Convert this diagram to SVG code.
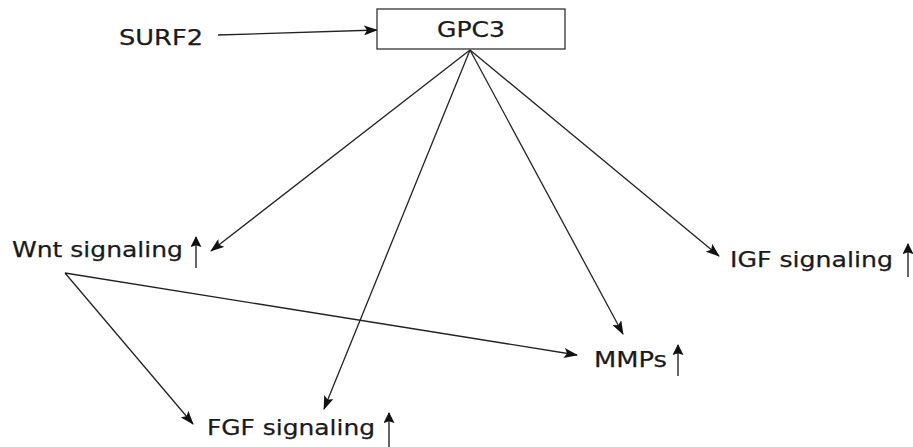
<svg xmlns="http://www.w3.org/2000/svg" width="913" height="447" viewBox="0 0 913 447">
<style>
.t{font-family:"DejaVu Sans",Verdana,sans-serif;font-size:22px;fill:#1a1a1a;stroke:#1a1a1a;stroke-width:0.25}
.c{stroke:#222;stroke-width:1.3;fill:none;marker-end:url(#ah)}
.u{stroke:#333;stroke-width:1.5;fill:none;marker-end:url(#uh)}
</style>
<defs>
<marker id="ah" viewBox="0 0 14 10" refX="13" refY="5" markerWidth="14" markerHeight="10" markerUnits="userSpaceOnUse" orient="auto">
<path d="M0,0 L14,5 L0,10 L3,5 Z" fill="#111"/>
</marker>
<marker id="uh" viewBox="0 0 12 12" refX="11" refY="6" markerWidth="11" markerHeight="11" markerUnits="userSpaceOnUse" orient="auto">
<path d="M0,0 L12,6 L0,12 L2,6 Z" fill="#111"/>
</marker>
</defs>
<rect width="913" height="447" fill="#fff"/>
<g id="connectors">
<line class="c" x1="218" y1="35" x2="377" y2="30"/>
<line class="c" x1="470" y1="50" x2="211" y2="251"/>
<line class="c" x1="470" y1="50" x2="324" y2="409"/>
<line class="c" x1="470" y1="50" x2="623" y2="334"/>
<line class="c" x1="470" y1="50" x2="719" y2="256"/>
<line class="c" x1="65" y1="273" x2="193" y2="424"/>
<line class="c" x1="65" y1="273" x2="577" y2="355"/>
</g>
<g id="surf2"><text class="t" x="119" y="45" textLength="84" lengthAdjust="spacingAndGlyphs">SURF2</text></g>
<g id="gpc3">
<rect x="377" y="9" width="188" height="40" fill="#fff" stroke="#333" stroke-width="1.3"/>
<text class="t" x="437" y="37" style="font-size:21px" textLength="68" lengthAdjust="spacingAndGlyphs">GPC3</text>
</g>
<g id="wnt">
<text class="t" x="12" y="257" textLength="171" lengthAdjust="spacingAndGlyphs">Wnt signaling</text>
<line class="u" x1="196" y1="268" x2="196" y2="237"/>
</g>
<g id="igf">
<text class="t" x="730" y="267" textLength="163" lengthAdjust="spacingAndGlyphs">IGF signaling</text>
<line class="u" x1="908" y1="277" x2="908" y2="244"/>
</g>
<g id="mmps">
<text class="t" x="594" y="367" textLength="73" lengthAdjust="spacingAndGlyphs">MMPs</text>
<line class="u" x1="678" y1="376" x2="678" y2="345"/>
</g>
<g id="fgf">
<text class="t" x="207" y="435" textLength="168" lengthAdjust="spacingAndGlyphs">FGF signaling</text>
<line class="u" x1="389" y1="447" x2="389" y2="413"/>
</g>
</svg>
